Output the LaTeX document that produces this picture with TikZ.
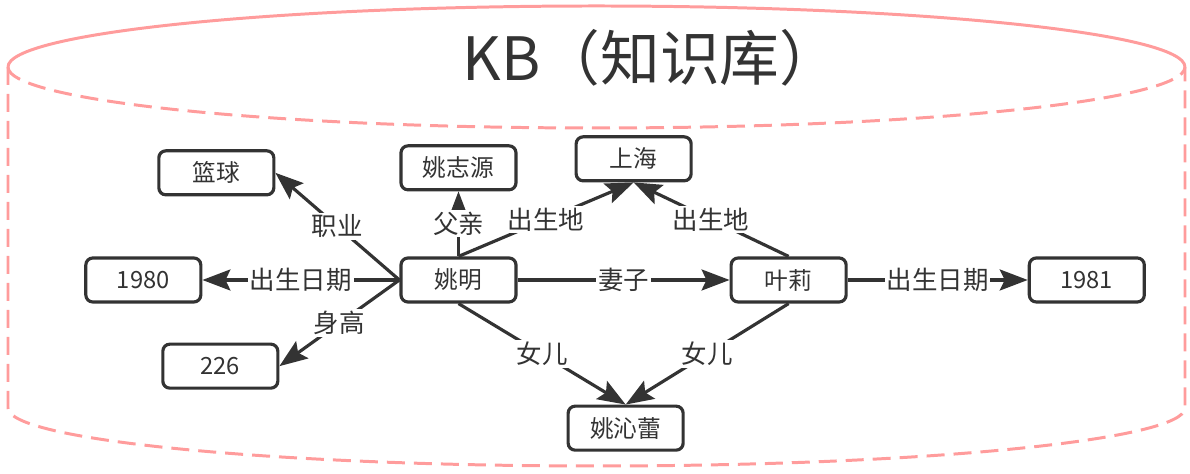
\documentclass[tikz,border=0pt]{standalone}
\usepackage{fontspec}
\setmainfont{Noto Sans CJK SC}
\usepackage{xcolor}
\usepackage{tikz}
\usetikzlibrary{arrows.meta, positioning}

\definecolor{kbpink}{RGB}{255,156,156}
\definecolor{kbgray}{RGB}{51,51,51}

\begin{document}
\begin{tikzpicture}[>={Stealth[length=0.56cm, width=0.42cm, inset=0.1cm]}, node distance=1.2cm and 2cm]

        % Styles
        \tikzstyle{entity} = [draw=kbgray, line width=1.8pt, rounded corners=0.14cm, fill=white, minimum width=2.3cm, minimum height=0.88cm, inner sep=0pt, text=kbgray, font=\fontsize{13.5}{16}\selectfont]
        \tikzstyle{relarrow} = [->, draw=kbgray, line width=1.8pt]
        \tikzstyle{rel} = [fill=white, inner sep=1pt, text=kbgray, font=\fontsize{14.5}{17}\selectfont]
        \tikzstyle{kbline} = [draw=kbpink, line width=1.7pt]
        \tikzstyle{kbdash} = [kbline, dash pattern=on 0.36cm off 0.18cm]

        \useasboundingbox (-9.17,-3.88) rectangle (14.63,5.6);

        % KB cylinder
        \draw[kbline] (-9.01,4.26) arc[start angle=180, end angle=0, x radius=11.77, y radius=1.22];
        \draw[kbdash] (-9.01,4.26) arc[start angle=180, end angle=360, x radius=11.77, y radius=1.22];
        \draw[kbdash] (-9.01,4.26) -- (-9.01,-2.56) arc[start angle=180, end angle=360, x radius=11.77, y radius=1.16] -- (14.53,4.26);
        \node[text=kbgray, font=\fontsize{34}{40}\selectfont] (kb) at (3.85,4.44) {KB（知识库）};

        % Entities
        \node[entity] (yao) {姚明};
        \node[entity, above=1.3cm of yao] (father) {姚志源};
        \node[entity, above right=1.48cm and 1.14cm of yao] (shanghai) {上海};
        \node[entity, above left=1.2cm and 2.48cm of yao] (job) {篮球};
        \node[entity, left=3.94cm of yao] (born1) {1980};
        \node[entity, below left=0.78cm and 2.4cm of yao] (height) {226};
        \node[entity, right=4.24cm of yao] (ye) {叶莉};
        \node[entity, right=3.6cm of ye] (born2) {1981};
        \node[entity, below right=2.02cm and 0.98cm of yao] (daughter) {姚沁蕾};

        % Relations of Yao
        \draw[relarrow] (yao.west) -- node[rel] {职业} (job.east);
        \draw[relarrow] (yao.west) -- node[rel] {出生日期} (born1.east);
        \draw[relarrow] (yao.west) -- node[rel] {身高} (height.east);
        \draw[relarrow] (yao.north) -- node[rel] {父亲} (father.south);
        \draw[relarrow] (yao.north) -- node[rel] {出生地} (shanghai.south);
        \draw[relarrow] (yao.east) -- node[rel] {妻子} (ye.west);
        \draw[relarrow] (yao.south) -- node[rel] {女儿} (daughter.north);

        % Relations of Ye
        \draw[relarrow] (ye.north) -- node[rel] {出生地} (shanghai.south);
        \draw[relarrow] (ye.east) -- node[rel] {出生日期} (born2.west);
        \draw[relarrow] (ye.south) -- node[rel] {女儿} (daughter.north);

    \end{tikzpicture}
\end{document}
